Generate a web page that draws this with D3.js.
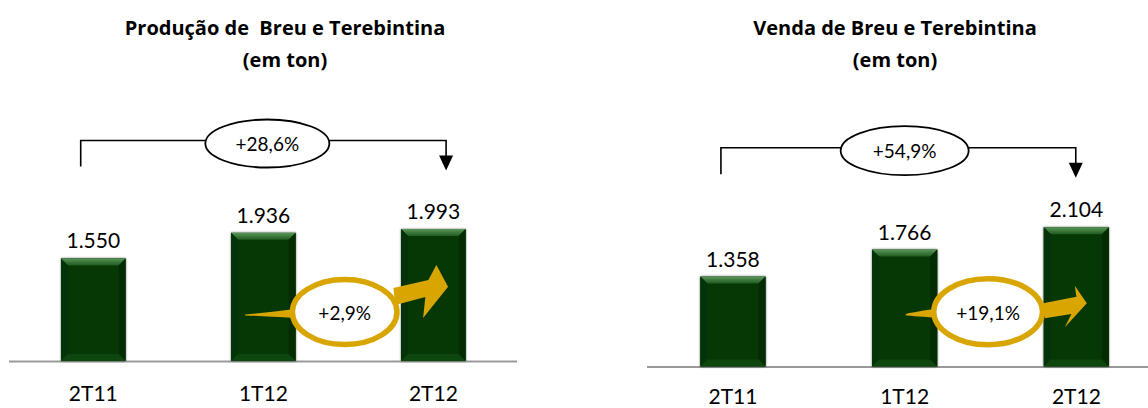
<!DOCTYPE html>
<html>
<head>
<meta charset="utf-8">
<script src="https://cdn.jsdelivr.net/npm/d3@7"></script>
<style>
  body { margin: 0; background: #fff; }
  svg text { font-family: Lato, "Open Sans", sans-serif; fill: #000; }
</style>
</head>
<body>
<svg id="chart" width="1148" height="408"></svg>
<script>
// data
var categories = ["2T11", "1T12", "2T12"];
var producao = [1550, 1936, 1993];
var venda = [1358, 1766, 2104];
var titles = [["Produção de  Breu e Terebintina", "(em ton)"], ["Venda de Breu e Terebintina", "(em ton)"]];
var totalChange = ["+28,6%", "+54,9%"];
var qoqChange = ["+2,9%", "+19,1%"];

var svg = d3.select("#chart");
var defs = svg.append("defs");

var topGrad = defs.append("linearGradient").attr("id", "bevelTop")
    .attr("x1", 0).attr("y1", 0).attr("x2", 0).attr("y2", 1);
topGrad.append("stop").attr("offset", "0%").attr("stop-color", "#5a955a");
topGrad.append("stop").attr("offset", "100%").attr("stop-color", "#1f5a1f");

// layout for each of the two panels (positions only, no values)
var panels = [
  { values: producao, title: titles[0], total: totalChange[0], qoq: qoqChange[0],
    range: [61, 465.7], base: 361, axis: [9, 517], titleX: 285, catY: 40,
    bracket: { y: 140.5, dl: -12.6, dr: 12.7, drop: 26, tip: 30, ex: 4, rx: 62, ry: 24 },
    gold: { dx: -3.7, cy: 312, rx: 52.3, ry: 32.5, tail: 245,
            shaft: [[48.7, -24], [83.7, -32], [91.7, -47], [103.4, -25.3], [78.4, 6], [80.7, -15], [50.7, -7]] } },
  { values: venda, title: titles[1], total: totalChange[1], qoq: qoqChange[1],
    range: [700.3, 1109], base: 366.5, axis: [647, 1148], titleX: 895, catY: 37,
    bracket: { y: 147.7, dl: -12, dr: -0.6, drop: 26.6, tip: 30, ex: 0, rx: 64, ry: 24.5 },
    gold: { dx: -2.4, cy: 311.7, rx: 54.3, ry: 33, tail: 905.7,
            shaft: [[55, -8.4], [88.3, -15], [86.7, -26], [98.7, -8.4], [76.7, 15.6], [83.3, 2.3], [56.7, 6.6]] } }
];

panels.forEach(function (p) {
  var g = svg.append("g");

  var x = d3.scaleBand().domain(categories).range(p.range)
      .paddingInner(0.62).paddingOuter(0);
  var y = d3.scaleLinear().domain([0, 2500]).range([p.base, p.base - 165.5]);
  var bw = x.bandwidth();
  var cx = function (c) { return x(c) + bw / 2; };

  // title
  g.selectAll(".title").data(p.title).enter().append("text")
      .attr("class", "title")
      .attr("x", p.titleX)
      .attr("y", function (d, i) { return 35 + i * 32; })
      .attr("text-anchor", "middle")
      .style("white-space", "pre")
      .style("font-family", "'Open Sans', sans-serif")
      .style("font-weight", "bold")
      .style("font-size", "20px")
      .text(function (d) { return d; });

  // axis baseline
  g.append("line")
      .attr("x1", p.axis[0]).attr("x2", p.axis[1])
      .attr("y1", p.base + 0.5).attr("y2", p.base + 0.5)
      .attr("stroke", "#999").attr("stroke-width", 2);

  // category labels through axis
  var ax = g.append("g").attr("transform", "translate(0," + p.base + ")")
      .call(d3.axisBottom(x).tickSize(0).tickPadding(0));
  ax.select(".domain").remove();
  ax.selectAll("text")
      .attr("y", p.catY).attr("dy", 0)
      .style("font-family", "Lato, sans-serif")
      .style("font-size", "21px")
      .style("fill", "#000");

  // bevelled bars
  var bars = g.selectAll(".bar").data(p.values).enter().append("g")
      .attr("class", "bar")
      .style("filter", "drop-shadow(0px 0px 1.2px rgba(0,0,0,0.55))");
  var b = 7;
  bars.each(function (d, i) {
    var el = d3.select(this);
    var x0 = x(categories[i]), y0 = y(d), w = bw, h = y(0) - y(d);
    el.append("rect").attr("x", x0).attr("y", y0).attr("width", w).attr("height", h)
        .attr("fill", "#053805");
    var poly = function (pts, fill) {
      el.append("polygon").attr("points", pts.map(function (q) { return q.join(","); }).join(" "))
          .attr("fill", fill);
    };
    poly([[x0, y0], [x0 + w, y0], [x0 + w - b, y0 + b], [x0 + b, y0 + b]], "url(#bevelTop)");
    poly([[x0, y0], [x0 + b, y0 + b], [x0 + b, y0 + h - b], [x0, y0 + h]], "#04330a");
    poly([[x0 + w, y0], [x0 + w - b, y0 + b], [x0 + w - b, y0 + h - b], [x0 + w, y0 + h]], "#032c03");
    poly([[x0, y0 + h], [x0 + b, y0 + h - b], [x0 + w - b, y0 + h - b], [x0 + w, y0 + h]], "#0d470d");
  });

  // value labels
  g.selectAll(".val").data(p.values).enter().append("text")
      .attr("class", "val")
      .attr("x", function (d, i) { return cx(categories[i]); })
      .attr("y", function (d) { return y(d) - 10; })
      .attr("text-anchor", "middle")
      .style("font-size", "21px")
      .text(function (d) { return d3.format(",")(d).replace(/,/g, "."); });

  // total change bracket
  var br = p.bracket;
  var lx = cx(categories[0]) + br.dl, rx = cx(categories[2]) + br.dr;
  g.append("path")
      .attr("d", "M" + lx + "," + (br.y + br.drop) + "V" + br.y + "H" + rx + "V" + (br.y + br.tip - 14))
      .attr("fill", "none").attr("stroke", "#000").attr("stroke-width", 1.6);
  g.append("path")
      .attr("d", "M" + (rx - 7) + "," + (br.y + br.tip - 15) + "L" + (rx + 7) + "," + (br.y + br.tip - 15) +
            "L" + rx + "," + (br.y + br.tip) + "Z")
      .attr("fill", "#000");
  var ex = cx(categories[1]) + br.ex;
  g.append("ellipse").attr("cx", ex).attr("cy", br.y + 3).attr("rx", br.rx).attr("ry", br.ry)
      .attr("fill", "#fff").attr("stroke", "#000").attr("stroke-width", 1.8);
  g.append("text").attr("x", ex).attr("y", br.y + 10)
      .attr("text-anchor", "middle").style("font-size", "19px").text(p.total);

  // quarter-on-quarter gold arrow
  var go = p.gold;
  var gx = (cx(categories[1]) + cx(categories[2])) / 2 + go.dx;
  var gold = "#d9a500";
  g.append("path")
      .attr("d", "M" + go.tail + "," + (go.cy + 2.5) +
            "Q" + (gx - 80) + "," + (go.cy + 1) + " " + (gx - go.rx + 2) + "," + (go.cy - 3) +
            "L" + (gx - go.rx + 2) + "," + (go.cy + 6) +
            "Q" + (gx - 80) + "," + (go.cy + 4) + " " + go.tail + "," + (go.cy + 3.5) + "Z")
      .attr("fill", gold);
  g.append("polygon")
      .attr("points", go.shaft.map(function (q) { return (gx + q[0]) + "," + (go.cy + q[1]); }).join(" "))
      .attr("fill", gold);
  g.append("ellipse").attr("cx", gx).attr("cy", go.cy).attr("rx", go.rx).attr("ry", go.ry)
      .attr("fill", "#fff").attr("stroke", gold).attr("stroke-width", 5.5);
  g.append("text").attr("x", gx).attr("y", 320)
      .attr("text-anchor", "middle").style("font-size", "19px").text(p.qoq);
});
</script>
</body>
</html>
